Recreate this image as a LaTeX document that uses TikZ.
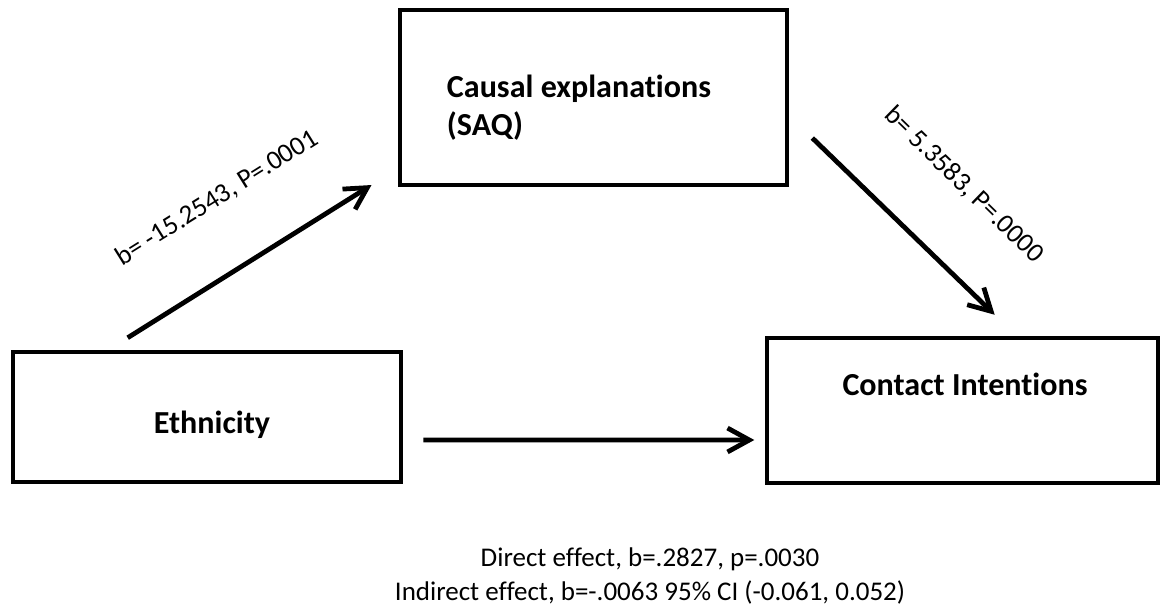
\documentclass[tikz,border=0pt]{standalone}
\usepackage{fontspec}
\setmainfont{Carlito}[Ligatures=CommonOff]
\usetikzlibrary{arrows.meta,calc}
\tikzset{
    >={Straight Barb[length=15.5pt,width=17pt]},
    shorten >=1pt,
    box/.style={draw, line width=3.2pt, inner sep=0pt},
    eff/.style={->, line width=3.4pt},
    var/.style={font=\fontsize{22.8}{27}\selectfont\bfseries},
    coef/.style={font=\fontsize{19.2}{23.5}\selectfont},
}

\begin{document}
\begin{tikzpicture}[x=0.025cm, y=-0.025cm]
    \useasboundingbox (0,0) rectangle (1161,611);

    % variables
    \node[box, minimum width=9.675cm, minimum height=4.375cm] (saq) at (593.5,97.5) {};
    \node[box, minimum width=9.7cm, minimum height=3.25cm] (eth) at (207,417) {};
    \node[box, minimum width=9.775cm, minimum height=3.625cm] (con) at (962.5,410.5) {};

    \node[var, anchor=base west, align=left] (saqtxt) at (442,135) {Causal explanations\\(SAQ)};
    \node[var, anchor=base] (ethtxt) at (212,433) {Ethnicity};
    \node[var, anchor=base] (contxt) at (965,395) {Contact Intentions};

    % paths
    \coordinate (a1) at ([shift={(117,-12)}]eth.north west);
    \coordinate (b1) at ([shift={(-25,-3)}]saq.south west);
    \coordinate (a2) at ([shift={(23,40.5)}]saq.east);
    \coordinate (b2) at ([shift={(231,-20)}]con.north west);
    \coordinate (a3) at ([shift={(20,23)}]eth.east);
    \coordinate (b3) at ([shift={(-9,29.5)}]con.west);

    \draw[eff] (a1) -- (b1);
    \draw[eff] (a2) -- (b2);
    \draw[eff] (a3) -- (b3);

    \node[coef, rotate=32] (ab) at (217,198) {b= -15.2543, P=.0001};
    \node[coef, rotate=-44.3] (bc) at (964,185) {b= 5.3583, P=.0000};

    \node[coef, align=center, anchor=base] (eff) at (650,600)
        {Direct effect, b=.2827, p=.0030\\Indirect effect, b=-.0063 95\% CI (-0.061, 0.052)};
\end{tikzpicture}
\end{document}
